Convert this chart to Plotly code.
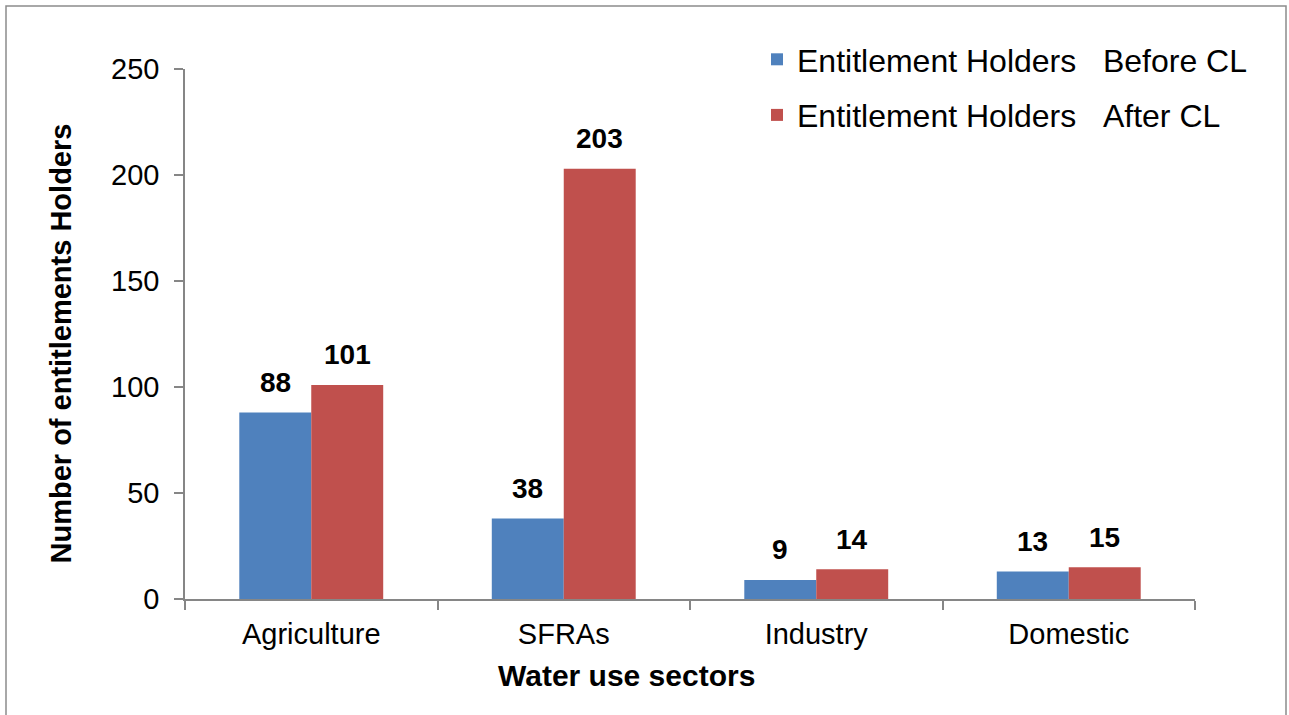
import plotly.graph_objects as go

categories = ["Agriculture", "SFRAs", "Industry", "Domestic"]
before_cl = [88, 38, 9, 13]
after_cl = [101, 203, 14, 15]
series_names = ["Entitlement Holders\u00a0\u00a0\u00a0Before CL", "Entitlement Holders\u00a0\u00a0\u00a0After CL"]
y_ticks = [0, 50, 100, 150, 200, 250]

FONT = "Liberation Sans, Arial, sans-serif"
AXIS_COLOR = "#868686"

L, R, T, B = 185, 94, 69, 116
W, H = 1289, 715
pw, ph = W - L - R, H - T - B
BARGAP = 0.43
bar_px = pw / len(categories) * (1 - BARGAP) / 2

fig = go.Figure()
fig.add_trace(go.Bar(
    x=categories, y=before_cl, name=series_names[0],
    marker=dict(color="#4F81BD", line=dict(width=0)),
    legendgroup="a",
))
fig.add_trace(go.Bar(
    x=categories, y=after_cl, name=series_names[1],
    marker=dict(color="#C0504D", line=dict(width=0)),
    legendgroup="b",
))

annotations = []
for vals, sign in ((before_cl, -1), (after_cl, 1)):
    for c, v in zip(categories, vals):
        annotations.append(dict(
            x=c, y=v, xref="x", yref="y", text=f"<b>{v}</b>", showarrow=False,
            xshift=sign * bar_px / 2, yshift=30, yanchor="middle",
            font=dict(family=FONT, size=28, color="black"),
        ))
annotations.append(dict(
    x=(626 - L) / pw, y=(599 - 675) / ph, xref="paper", yref="paper",
    text="<b>Water use sectors</b>", showarrow=False, xanchor="center", yanchor="middle",
    font=dict(family=FONT, size=30, color="black"),
))
annotations.append(dict(
    x=(61 - L) / pw, y=(599 - 343.5) / ph, xref="paper", yref="paper",
    text="<b>Number of entitlements Holders</b>", showarrow=False, textangle=-90,
    xanchor="center", yanchor="middle",
    font=dict(family=FONT, size=29, color="black"),
))

fig.update_layout(
    width=W, height=H,
    margin=dict(l=L, r=R, t=T, b=B),
    paper_bgcolor="white", plot_bgcolor="white",
    font=dict(family=FONT, size=29, color="black"),
    barmode="group", bargap=BARGAP, bargroupgap=0,
    showlegend=True,
    legend=dict(
        x=(757 - L) / pw, y=(599 - 32) / ph, xanchor="left", yanchor="top",
        font=dict(size=32, family=FONT, color="black"),
        traceorder="grouped", tracegroupgap=11,
        bgcolor="rgba(0,0,0,0)",
    ),
    xaxis=dict(
        showline=True, linecolor=AXIS_COLOR, linewidth=1.5,
        ticks="outside", tickson="boundaries", ticklen=9, tickcolor=AXIS_COLOR, tickwidth=1.5,
        tickfont=dict(size=29, family=FONT, color="black"),
        ticklabelstandoff=8,
        showgrid=False, zeroline=False,
    ),
    yaxis=dict(
        range=[0, 250], tickvals=y_ticks,
        showline=True, linecolor=AXIS_COLOR, linewidth=1.5,
        ticks="outside", ticklen=9, tickcolor=AXIS_COLOR, tickwidth=1.5,
        tickfont=dict(size=29, family=FONT, color="black"),
        ticklabelstandoff=9,
        showgrid=False, zeroline=False,
    ),
    annotations=annotations,
    shapes=[dict(
        type="rect", xref="paper", yref="paper",
        x0=(6 - L) / pw, x1=(1286 - L) / pw,
        y0=(599 - 716) / ph, y1=(599 - 6) / ph,
        line=dict(color="#8C8C8C", width=1.5), fillcolor="rgba(0,0,0,0)", layer="below",
    )],
)

fig.write_html("out.html")
